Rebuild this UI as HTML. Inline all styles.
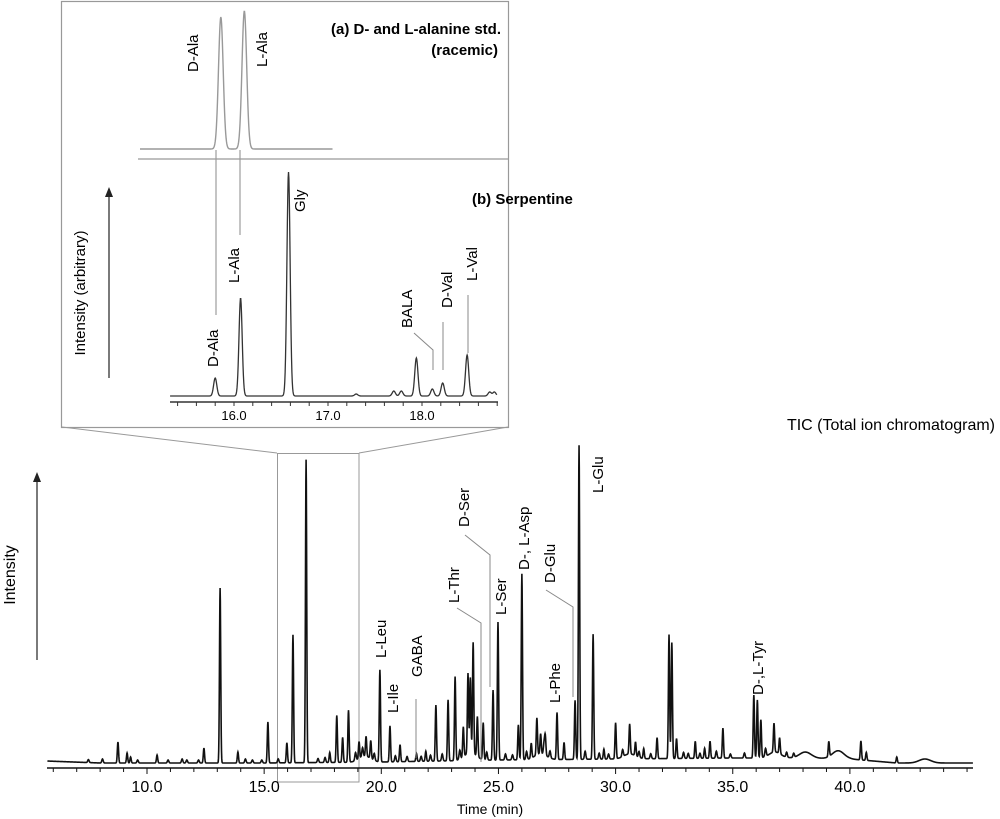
<!DOCTYPE html>
<html><head><meta charset="utf-8"><style>
html,body{margin:0;padding:0;background:#fff}
svg{display:block;font-family:"Liberation Sans",sans-serif}
</style></head><body>
<svg id="c" width="1000" height="819" viewBox="0 0 1000 819">
<rect x="61.5" y="1.5" width="447" height="426" fill="none" stroke="#999" stroke-width="1.2"/>
<line x1="62" y1="427" x2="277" y2="453" stroke="#999" stroke-width="1"/>
<line x1="508" y1="427" x2="359" y2="453" stroke="#999" stroke-width="1"/>
<rect x="277.5" y="453.5" width="81.5" height="328.5" fill="none" stroke="#999" stroke-width="1"/>
<g id="main"></g>
<g id="inset"></g>
<text x="15" y="575" font-size="16" text-anchor="middle" transform="rotate(-90 15 575)">Intensity</text>
<line x1="37" y1="660" x2="37" y2="480" stroke="#222" stroke-width="1.2"/>
<path d="M33,482 L37,472 L41,482 Z" fill="#222"/>
<text x="995" y="430" font-size="16" text-anchor="end">TIC (Total ion chromatogram)</text>
<text x="490" y="814" font-size="14" text-anchor="middle">Time (min)</text>
<text x="85" y="293" font-size="15" text-anchor="middle" transform="rotate(-90 85 293)">Intensity (arbitrary)</text>
<line x1="109" y1="378" x2="109" y2="195" stroke="#222" stroke-width="1.2"/>
<path d="M105,197 L109,187 L113,197 Z" fill="#222"/>
<text x="501" y="34" font-size="15" font-weight="bold" text-anchor="end">(a) D- and L-alanine std.</text>
<text x="498" y="55" font-size="15" font-weight="bold" text-anchor="end">(racemic)</text>
<text x="472" y="204" font-size="15" font-weight="bold" text-anchor="start">(b) Serpentine</text>
<line x1="138" y1="159" x2="509" y2="159" stroke="#999" stroke-width="1.2"/>
</svg>
<script>
// ---- main TIC data ----
const mainTimes = [8.76,9.15,9.3,10.43,12.43,13.12,13.88,15.16,15.97,16.23,16.79,17.8,18.1,18.35,18.6,19.05,19.35,19.55,19.94,20.37,20.8,21.5,21.9,22.33,22.85,23.15,23.5,23.7,23.8,23.92,24.1,24.35,24.77,24.98,25.85,26.0,26.4,26.64,26.8,27.0,27.5,27.8,28.27,28.44,29.04,29.5,30.0,30.6,30.85,31.2,31.77,32.28,32.4,32.6,33.4,33.8,34.03,34.58,35.9,36.05,36.2,36.76,37.0,39.1,40.47,40.7,42.0];
const mainHeights = [21,10,6,8,15,175,11,41,20,128,303,10,47,25,52,17,20,18,92,36,17,8,10,56,61,84,30,80,75,111,40,37,70,138,35,186,15,37,20,18,47,17,59,314,125,10,36,30,14,10,21,124,116,20,17,10,17,30,63,58,38,29,16,15,19,8,6];
const noiseTimes = [7.5,8.1,9.6,10.9,11.5,11.7,12.2,14.2,14.5,14.9,15.6,17.3,17.6,18.9,19.2,19.7,20.6,21.1,21.7,22.1,22.6,23.35,24.5,25.3,25.6,26.2,26.95,27.2,28.7,29.3,29.7,30.3,31.0,31.5,32.9,33.1,33.6,34.3,34.9,35.5,36.4,37.3,37.6],
      noiseHeights = [3,4,3,3,4,3,3,4,3,3,4,4,5,8,9,7,6,5,5,6,7,9,8,6,5,8,12,7,8,6,5,7,6,5,6,5,5,7,4,5,8,5,4];
const baseTimes = [5.7,8,15,20,25,30,35,38,40,42,45.3];
const baseLevels = [3,1,1,2,4,5,6,6,5,1,1];
const humpTimes = [19.3,23.8,26.8,30.6,36.8,38.1,39.5,43.2];
const humpHeights = [6,8,6,5,6,6,8,4];
const mainTicks = [10,15,20,25,30,35,40];
const mainTickLabels = ["10.0","15.0","20.0","25.0","30.0","35.0","40.0"];
// ---- inset data ----
const stdTimes = [15.86,16.11];
const stdHeights = [132,138];
const serpTimes = [15.80,16.07,16.58,17.3,17.7,17.78,17.94,18.11,18.22,18.48,18.72,18.77];
const serpHeights = [18,98,224,2,5,5,38,7,13,41,4,4];
const insetTicks = [16,17,18];
const insetTickLabels = ["16.0","17.0","18.0"];

const NS="http://www.w3.org/2000/svg";
function mk(tag,attrs,parent){const e=document.createElementNS(NS,tag);for(const k in attrs)e.setAttribute(k,attrs[k]);parent.appendChild(e);return e;}
const mx = t => 147 + (t-10)*23.43;
const my = v => 764 - v;
const ix = t => 234 + (t-16)*94;
function interpBase(t){for(let i=0;i<baseTimes.length-1;i++){if(t<=baseTimes[i+1]){const f=(t-baseTimes[i])/(baseTimes[i+1]-baseTimes[i]);return baseLevels[i]+f*(baseLevels[i+1]-baseLevels[i]);}}return baseLevels[baseLevels.length-1];}
function sig(times,heights,t,s){let v=0;for(let i=0;i<times.length;i++){const d=(t-times[i])/s;if(Math.abs(d)<6)v+=heights[i]*Math.exp(-0.5*d*d);}return v;}

const main=document.getElementById('main');
let pts=[];
for(let t=5.75;t<=45.25;t+=0.01){const v=interpBase(t)+sig(mainTimes,mainHeights,t,0.026)+sig(noiseTimes,noiseHeights,t,0.03)+sig(humpTimes,humpHeights,t,0.25);pts.push(mx(t).toFixed(2)+","+my(v).toFixed(2));}
const tr=mk('polyline',{points:pts.join(' '),fill:'none',stroke:'#111','stroke-width':1.6},main);


const ax=mk('line',{x1:47,y1:768,x2:973,y2:768,stroke:'#111','stroke-width':1.5},main);


for(let t=6;t<=45;t++){const major=mainTicks.includes(t);const tk=mk('line',{x1:mx(t),y1:768,x2:mx(t),y2:major?774:772,stroke:'#111','stroke-width':1},main);

}
mainTicks.forEach((t,i)=>{const tl=mk('text',{x:mx(t),y:792,'font-size':16,'text-anchor':'middle'},main);tl.textContent=mainTickLabels[i];

});

function vlabel(parent,x,y,txt,fs,name){const e=mk('text',{x:x,y:y,'font-size':fs,transform:`rotate(-90 ${x} ${y})`},parent);e.textContent=txt;

return e;}
function leader(parent,d,name){const e=mk('path',{d:d,fill:'none',stroke:'#888','stroke-width':1},parent);

}
vlabel(main,386,658,'L-Leu',15,'label-l-leu');
vlabel(main,398,713,'L-Ile',15,'label-l-ile');
vlabel(main,422,677,'GABA',15,'label-gaba');
leader(main,'M416,699 L416,758','leader-gaba');
vlabel(main,459,603,'L-Thr',15,'label-l-thr');
leader(main,'M457,608 L481,623 L481,762','leader-l-thr');
vlabel(main,469,527,'D-Ser',15,'label-d-ser');
leader(main,'M465,535 L490,555 L490,687','leader-d-ser');
vlabel(main,506,615,'L-Ser',15,'label-l-ser');
vlabel(main,529,570,'D-, L-Asp',15,'label-dl-asp');
vlabel(main,555,583,'D-Glu',15,'label-d-glu');
leader(main,'M546,590 L573,607 L573,697','leader-d-glu');
vlabel(main,560,703,'L-Phe',15,'label-l-phe');
vlabel(main,603,493,'L-Glu',15,'label-l-glu');
vlabel(main,763,695,'D-,L-Tyr',15,'label-dl-tyr');

// ---- inset ----
const inset=document.getElementById('inset');
let pa=[];
for(let t=15.0;t<=17.05;t+=0.004){const v=sig(stdTimes,stdHeights,t,0.025);pa.push(ix(t).toFixed(2)+","+(149-v).toFixed(2));}
const ta=mk('polyline',{points:pa.join(' '),fill:'none',stroke:'#999','stroke-width':1.4},inset);


let pb=[];
for(let t=15.32;t<=18.8;t+=0.004){const v=sig(serpTimes,serpHeights,t,0.017);pb.push(ix(t).toFixed(2)+","+(396-v).toFixed(2));}
const tb=mk('polyline',{points:pb.join(' '),fill:'none',stroke:'#333','stroke-width':1.3},inset);


const iax=mk('line',{x1:170,y1:402,x2:498,y2:402,stroke:'#333','stroke-width':1.5},inset);


for(let t=15.4;t<=18.8;t+=0.2){const tk=mk('line',{x1:ix(t),y1:402,x2:ix(t),y2:406,stroke:'#333','stroke-width':1},inset);

}
insetTicks.forEach((t,i)=>{const tl=mk('text',{x:ix(t),y:420,'font-size':13,'text-anchor':'middle'},inset);tl.textContent=insetTickLabels[i];

});
leader(inset,'M216,150 L216,315','dropline-d-ala');
leader(inset,'M240,150 L240,235','dropline-l-ala');
vlabel(inset,198,72,'D-Ala',15,'label-a-d-ala');
vlabel(inset,267,67,'L-Ala',15,'label-a-l-ala');
vlabel(inset,218,367,'D-Ala',15,'label-b-d-ala');
vlabel(inset,239,283,'L-Ala',15,'label-b-l-ala');
vlabel(inset,305,212,'Gly',15,'label-gly');
vlabel(inset,412,328,'BALA',15,'label-bala');
leader(inset,'M414,333 L433,350 L433,370','leader-bala');
vlabel(inset,452,308,'D-Val',15,'label-d-val');
leader(inset,'M443,322 L443,370','leader-d-val');
vlabel(inset,477,281,'L-Val',15,'label-l-val');
leader(inset,'M468,295 L468,353','leader-l-val');
</script>
</body></html>
